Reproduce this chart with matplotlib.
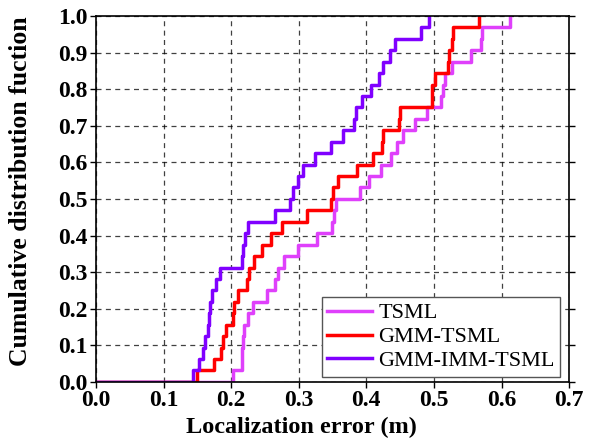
import numpy as np
import matplotlib
matplotlib.use("Agg")
import matplotlib.pyplot as plt

# sorted localization errors (m), 32 samples per method
tsml = [0.202, 0.216, 0.2165, 0.217, 0.2194, 0.2253, 0.2327, 0.2525,
        0.2648, 0.2697, 0.2786, 0.2993, 0.3264, 0.3486, 0.352, 0.3545,
        0.3905, 0.404, 0.421, 0.437, 0.4447, 0.4536, 0.472, 0.489,
        0.511, 0.513, 0.516, 0.526, 0.5555, 0.570, 0.571, 0.612]
gmm_tsml = [0.149, 0.174, 0.185, 0.188, 0.193, 0.203, 0.204, 0.210,
            0.223, 0.226, 0.234, 0.246, 0.259, 0.275, 0.312, 0.348,
            0.350, 0.358, 0.386, 0.410, 0.4226, 0.425, 0.448, 0.450,
            0.4966, 0.497, 0.5015, 0.521, 0.522, 0.527, 0.528, 0.566]
gmm_imm_tsml = [0.144, 0.152, 0.158, 0.162, 0.165, 0.167, 0.168, 0.172,
                0.178, 0.183, 0.2155, 0.218, 0.220, 0.225, 0.265, 0.287,
                0.292, 0.299, 0.307, 0.324, 0.348, 0.366, 0.382, 0.384,
                0.394, 0.407, 0.419, 0.424, 0.435, 0.442, 0.481, 0.492]

series = [("TSML", tsml, "#df40fb"),
          ("GMM-TSML", gmm_tsml, "#ff0000"),
          ("GMM-IMM-TSML", gmm_imm_tsml, "#8000ff")]

plt.rcParams['font.family'] = ['Liberation Serif', 'DejaVu Serif']

fig = plt.figure(figsize=(5.96, 4.4), dpi=100)
ax = fig.add_axes([0.161, 0.132, 0.794, 0.8318])

for name, vals, color in series:
    x = np.concatenate([[0.0], np.sort(vals)])
    y = np.arange(len(x)) / len(vals)
    ax.step(x, y, where='post', color=color, lw=2.5, label=name)

ax.set_xlim(0, 0.7)
ax.set_ylim(0, 1.0)
ax.set_xticks(np.arange(0, 0.71, 0.1))
ax.set_yticks(np.arange(0, 1.01, 0.1))
ax.set_xticklabels(['%.1f' % v for v in np.arange(0, 0.71, 0.1)], fontweight='bold')
ax.set_yticklabels(['%.1f' % v for v in np.arange(0, 1.01, 0.1)], fontweight='bold')
ax.tick_params(labelsize=17, direction='out', length=4, width=1, right=True, pad=2)
ax.grid(True, color='black', ls=(0, (4, 3.5)), lw=0.9, alpha=0.75)
for sp in ax.spines.values():
    sp.set_linewidth(1.2)

ax.set_xlabel('Localization error (m)', fontsize=17.5, fontweight='bold', labelpad=0)
ax.xaxis.set_label_coords(0.434, -0.095)
ax.set_ylabel('Cumulative distribution fuction', fontsize=18.5, fontweight='bold')
ax.yaxis.set_label_coords(-0.135, 0.52)

leg = ax.legend(loc='lower right', bbox_to_anchor=(0.981, 0.014), fontsize=16,
                fancybox=False, framealpha=1, edgecolor='#555555',
                borderaxespad=0, handlelength=2.0, handletextpad=0.3,
                labelspacing=0.15, borderpad=0.25)
leg.get_frame().set_linewidth(1.0)

fig.savefig('out.png', dpi=100)
